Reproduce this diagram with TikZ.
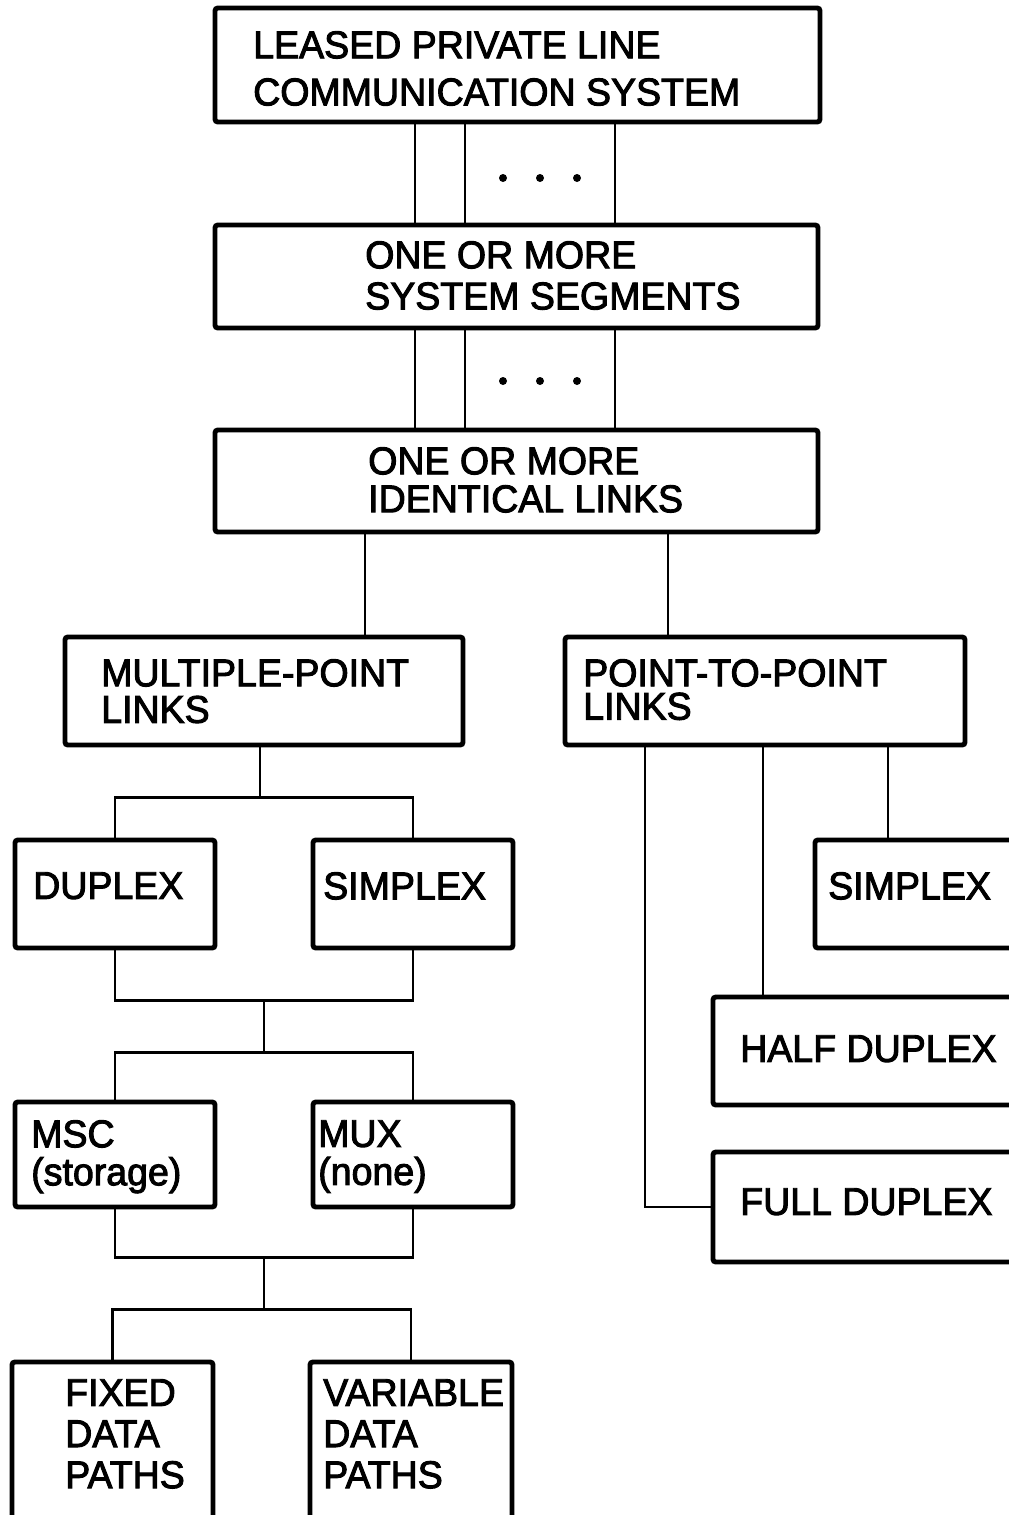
\documentclass[tikz,border=0pt]{standalone}
\usepackage{fontspec}
\setmainfont{Liberation Sans}[FakeStretch=0.97,FakeBold=2.5]
\usetikzlibrary{positioning,fit,calc}

\tikzset{
  blk/.style={draw, line width=1.4pt, inner sep=0pt, rounded corners=0.8pt},
  txt/.style={anchor=north west, inner sep=0pt, align=left,
    font=\fontsize{11}{#1}\selectfont},
  txt/.default=13pt,
  wire/.style={line width=0.7pt},
}

\begin{document}
\begin{tikzpicture}[x=0.01cm, y=-0.01cm]
  \useasboundingbox (0,0) rectangle (1009,1515);
  \clip (0,0) rectangle (1009,1515);
  % boxes, corners on a pixel grid (y runs down)
  \node[blk, fit={(215,8) (820,122)}]      (lease) {};
  \node[blk, fit={(215,225) (818,328)}]    (seg)   {};
  \node[blk, fit={(215,430) (818,532)}]    (links) {};
  \node[blk, fit={(65,637) (463,745)}]     (multi) {};
  \node[blk, fit={(565,637) (965,745)}]    (ptp)   {};
  \node[blk, fit={(15,840) (215,948)}]     (dupl)  {};
  \node[blk, fit={(313,840) (513,948)}]    (simp)  {};
  \node[blk, fit={(815,840) (1120,948)}]   (simpR) {};
  \node[blk, fit={(713,997) (1120,1105)}]  (half)  {};
  \node[blk, fit={(713,1152) (1120,1262)}] (full)  {};
  \node[blk, fit={(15,1102) (215,1207)}]   (msc)   {};
  \node[blk, fit={(313,1102) (513,1207)}]  (mux)   {};
  \node[blk, fit={(12,1362) (213,1600)}]   (fixd)  {};
  \node[blk, fit={(310,1362) (512,1600)}]  (vard)  {};

  % labels
  \node[txt=13.4pt] (leaseT) at ([shift={(40,25)}]lease.north west) {LEASED PRIVATE LINE\\COMMUNICATION SYSTEM};
  \node[txt=11.7pt] (segT)   at ([shift={(152,18)}]seg.north west)  {ONE OR MORE\\SYSTEM SEGMENTS};
  \node[txt=10.8pt] (linksT) at ([shift={(155,19)}]links.north west){ONE OR MORE\\IDENTICAL LINKS};
  \node[txt=10.4pt] (multiT) at ([shift={(38,24)}]multi.north west) {MULTIPLE-POINT\\LINKS};
  \node[txt=9.5pt]  (ptpT)   at ([shift={(20,24)}]ptp.north west)   {POINT-TO-POINT\\LINKS};
  \node[txt]        (duplT)  at ([shift={(20,34)}]dupl.north west)  {DUPLEX};
  \node[txt]        (simpT)  at ([shift={(12,34)}]simp.north west)  {SIMPLEX};
  \node[txt]        (simpRT) at ([shift={(15,34)}]simpR.north west) {SIMPLEX};
  \node[txt]        (halfT)  at ([shift={(29,40)}]half.north west)  {HALF DUPLEX};
  \node[txt]        (fullT)  at ([shift={(29,38)}]full.north west)  {FULL DUPLEX};
  \node[txt=10.8pt] (mscT)   at ([shift={(18,20)}]msc.north west)   {MSC\\(storage)};
  \node[txt=10.8pt] (muxT)   at ([shift={(7,20)}]mux.north west)    {MUX\\(none)};
  \node[txt=11.7pt] (fixdT)  at ([shift={(55,19)}]fixd.north west)  {FIXED\\DATA\\PATHS};
  \node[txt=11.7pt] (vardT)  at ([shift={(15,19)}]vard.north west)  {VARIABLE\\DATA\\PATHS};

  % parallel feeds between the upper three boxes
  \foreach \x in {415,465,615} {
    \draw[wire] (lease.south -| \x,0) -- (seg.north -| \x,0);
    \draw[wire] (seg.south -| \x,0) -- (links.north -| \x,0);
  }
  \foreach \x in {503,540,577} {
    \fill (\x,178) circle[radius=0.04cm];
    \fill (\x,381) circle[radius=0.04cm];
  }

  % link types
  \draw[wire] (links.south -| 365,0) -- (multi.north -| 365,0);
  \draw[wire] (links.south -| 668,0) -- (ptp.north -| 668,0);

  % multiple-point branch
  \draw[wire] (multi.south -| 260,0) -- ++(0,50) coordinate (j1);
  \draw[wire] (dupl.north) |- (j1) -| (simp.north);
  \coordinate (j2) at ($(dupl.south)!.5!(simp.south)+(0,50)$);
  \draw[wire] (dupl.south) |- (j2) -| (simp.south);
  \draw[wire] (j2) -- ++(0,52) coordinate (j3);
  \draw[wire] (msc.north) |- (j3) -| (mux.north);
  \coordinate (j4) at ($(msc.south)!.5!(mux.south)+(0,48)$);
  \draw[wire] (msc.south) |- (j4) -| (mux.south);
  \draw[wire] (j4) -- ++(0,52) coordinate (j5);
  \draw[wire] (fixd.north) |- (j5) -| (vard.north);

  % point-to-point branch
  \draw[wire] (ptp.south -| 888,0) -- (simpR.north -| 888,0);
  \draw[wire] (ptp.south -| 763,0) -- (half.north -| 763,0);
  \draw[wire] (ptp.south -| 645,0) |- (full.west);
\end{tikzpicture}
\end{document}
